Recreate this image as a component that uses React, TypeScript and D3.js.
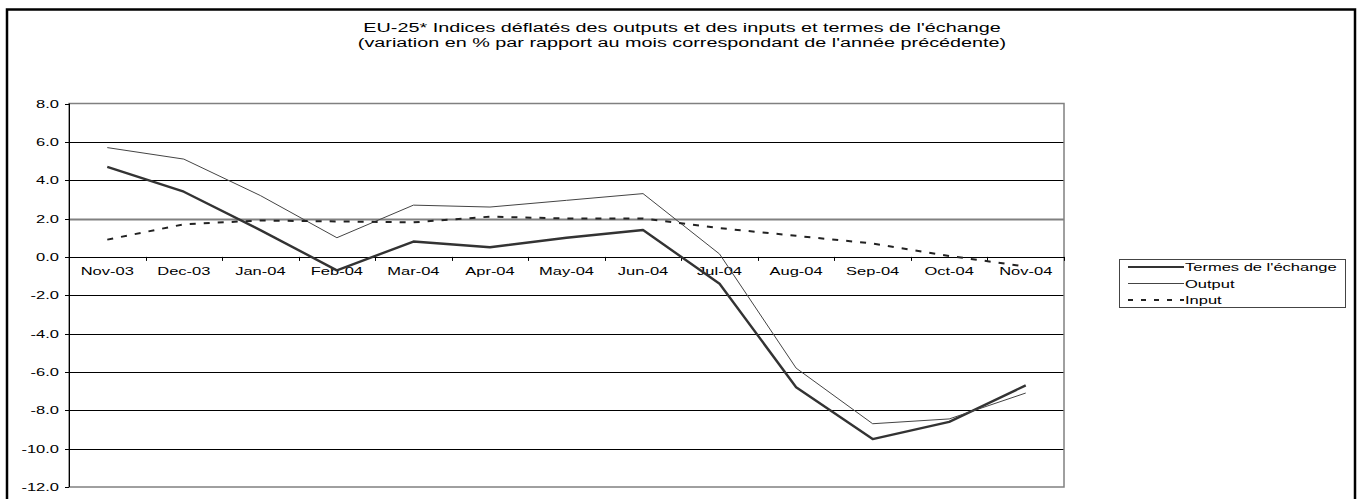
import React from "react";
import * as d3 from "d3";

const categories = ["Nov-03","Dec-03","Jan-04","Feb-04","Mar-04","Apr-04","May-04","Jun-04","Jul-04","Aug-04","Sep-04","Oct-04","Nov-04"];
const termes = [4.7, 3.4, 1.4, -0.7, 0.8, 0.5, 1.0, 1.4, -1.4, -6.8, -9.5, -8.6, -6.7];
const output = [5.7, 5.1, 3.2, 1.0, 2.7, 2.6, 2.95, 3.3, 0.15, -5.8, -8.7, -8.45, -7.1];
const input = [0.9, 1.7, 1.9, 1.85, 1.8, 2.1, 2.0, 2.0, 1.5, 1.1, 0.7, 0.05, -0.5];
const yTicks = [8, 6, 4, 2, 0, -2, -4, -6, -8, -10, -12];
const titleLines = [
  "EU-25* Indices déflatés des outputs et des inputs et termes de l'échange",
  "(variation en % par rapport au mois correspondant de l'année précédente)",
];
const legendItems = ["Termes de l'échange", "Output", "Input"];

const SX = 1.5;
const FONT = "Arial, 'Liberation Sans', sans-serif";

function T({ x, y, anchor = "start", size = 11, sx = SX, children }: any) {
  return (
    <text
      transform={`translate(${x},${y}) scale(${sx},1)`}
      textAnchor={anchor}
      fontSize={size}
      fontFamily={FONT}
      fill="#000"
    >
      {children}
    </text>
  );
}

export default function App() {
  const left = 69, right = 1064, top = 103.5, bottom = 487;
  const x = d3.scaleBand().domain(categories).range([left, right]);
  const y = d3.scaleLinear().domain([-12, 8]).range([bottom, top]);
  const cx = (c: string) => (x(c) as number) + x.bandwidth() / 2;
  const line = d3.line<number>().x((_, i) => cx(categories[i])).y((v) => y(v));

  const series = [
    { name: legendItems[0], data: termes, stroke: "#333", width: 2.4, dash: undefined },
    { name: legendItems[1], data: output, stroke: "#444", width: 1, dash: undefined },
    { name: legendItems[2], data: input, stroke: "#222", width: 2, dash: "6,8" },
  ];

  const boundaries = categories.map((c) => x(c) as number).concat([right]);

  return (
    <svg width={1362} height={499} style={{ position: "absolute", left: 0, top: 0, background: "#fff" }}>
      <rect x={0} y={0} width={1362} height={499} fill="#fff" />
      <rect x={7} y={9.5} width={1348} height={520} fill="none" stroke="#000" strokeWidth={2.5} />
      {titleLines.map((t, i) => (
        <T key={i} x={682} y={32 + i * 15} anchor="middle" size={12} sx={1.65}>{t}</T>
      ))}
      {/* gridlines */}
      {yTicks.filter((v) => v !== -12 && v !== 8).map((v) => (
        <line key={v} x1={left} x2={right} y1={Math.round(y(v)) + 0.5} y2={Math.round(y(v)) + 0.5}
          stroke={v === 2 ? "#808080" : "#000"} strokeWidth={v === 2 ? 2 : 1} />
      ))}
      {/* plot border */}
      <rect x={left} y={top} width={right - left} height={bottom - top} fill="none" stroke="#808080" strokeWidth={1.5} />
      {/* y axis */}
      <line x1={left + 0.5} x2={left + 0.5} y1={top} y2={bottom} stroke="#000" strokeWidth={1} />
      {yTicks.map((v) => (
        <g key={v}>
          <line x1={left - 4} x2={left} y1={Math.round(y(v)) + 0.5} y2={Math.round(y(v)) + 0.5} stroke="#000" />
          <T x={59} y={y(v) + 4} anchor="end">{v.toFixed(1)}</T>
        </g>
      ))}
      {/* x axis at 0 */}
      <line x1={left} x2={right} y1={Math.round(y(0)) + 0.5} y2={Math.round(y(0)) + 0.5} stroke="#000" />
      {boundaries.map((b, i) => (
        <line key={i} x1={Math.round(b) + 0.5} x2={Math.round(b) + 0.5} y1={y(0)} y2={y(0) + 4} stroke="#000" />
      ))}
      {categories.map((c) => (
        <T key={c} x={cx(c)} y={275} anchor="middle">{c}</T>
      ))}
      {/* series */}
      {series.map((s) => (
        <path key={s.name} d={line(s.data) as string} fill="none" stroke={s.stroke}
          strokeWidth={s.width} strokeDasharray={s.dash} strokeLinejoin="round" />
      ))}
      {/* legend */}
      <rect x={1119.5} y={259.5} width={226} height={48} fill="#fff" stroke="#444" strokeWidth={1} />
      {series.map((s, i) => {
        const ly = 267 + i * 16.5;
        return (
          <g key={s.name}>
            <line x1={1128} x2={1184} y1={ly} y2={ly} stroke={s.stroke} strokeWidth={s.width === 1 ? 1 : 2}
              strokeDasharray={s.dash ? "5,8" : undefined} />
            <T x={1185} y={ly + 4}>{s.name}</T>
          </g>
        );
      })}
    </svg>
  );
}
